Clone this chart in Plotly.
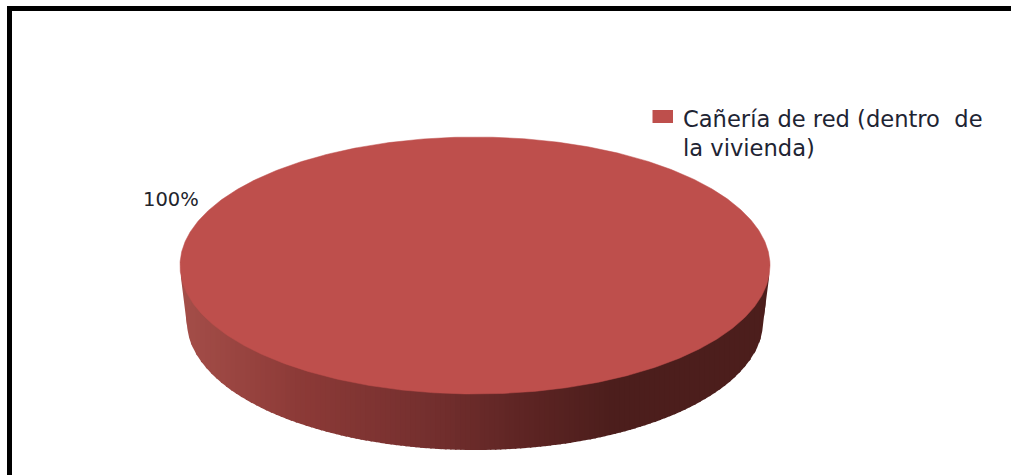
import numpy as np
import plotly.graph_objects as go

# Data
categories = ["Cañería de red (dentro  de<br>la vivienda)"]
values = [100]
value_labels = ["100%"]

# Style / geometry of the drawn pie
TOP_COLOR = "#BE4F4C"
WALL_STOPS_X = [181, 300, 430, 530, 610, 770]
WALL_STOPS_R = [165, 140, 116, 92, 76, 76]
WALL_STOPS_G = [78, 58, 47, 36, 30, 30]
WALL_STOPS_B = [73, 55, 46, 35, 28, 28]
CX, CY, RX, RY = 475, 265.5, 295, 128.5
CX2, CY2, RX2, RY2 = 475, 322, 288, 128

fig = go.Figure()

# Pie share -> sweep of the top face
shares = np.array(values, dtype=float) / sum(values)
sweep = shares[0] * 2 * np.pi
angles = np.linspace(0, sweep, 721)


def wall_bottom(x):
    inside = np.abs(x - CX2) < RX2
    ell = CY2 + RY2 * np.sqrt(np.clip(1 - ((x - CX2) / RX2) ** 2, 0, 1))
    # straight silhouette from the top rim down to the lower rim at each side
    side = CY2 + 2 - (np.abs(x - CX2) - RX2) * (46 / 6)
    return np.where(inside, ell, side)


# Side wall as narrow vertical strips, overlapping so no seams show
edges = np.linspace(CX - RX + 1, CX + RX - 1, 119)
for i, x0 in enumerate(edges[:-1]):
    x1 = min(edges[i + 1] + 1.5, edges[-1])
    xs = np.linspace(x0, x1, 5)
    upper = CY + RY * np.sqrt(np.clip(1 - ((xs - CX) / RX) ** 2, 0, 1)) - 3
    low = np.maximum(wall_bottom(xs), upper)
    xm = (x0 + edges[i + 1]) / 2
    r = np.interp(xm, WALL_STOPS_X, WALL_STOPS_R)
    g = np.interp(xm, WALL_STOPS_X, WALL_STOPS_G)
    b = np.interp(xm, WALL_STOPS_X, WALL_STOPS_B)
    col = f"rgb({r:.0f},{g:.0f},{b:.0f})"
    fig.add_trace(go.Scatter(
        x=np.r_[xs, xs[::-1]], y=np.r_[upper, low[::-1]],
        mode="lines", fill="toself", fillcolor=col,
        line=dict(color=col, width=0),
        hoverinfo="skip", showlegend=False,
    ))

# Top face
fig.add_trace(go.Scatter(
    x=CX + RX * np.cos(angles), y=CY + RY * np.sin(angles),
    mode="lines", fill="toself", fillcolor=TOP_COLOR,
    line=dict(color=TOP_COLOR, width=0.5),
    name=categories[0], showlegend=False,
))

fig.update_layout(
    width=1011, height=475, margin=dict(l=0, r=0, t=0, b=0),
    paper_bgcolor="white", plot_bgcolor="white", showlegend=False,
    xaxis=dict(range=[0, 1011], visible=False, fixedrange=True),
    yaxis=dict(range=[475, 0], visible=False, fixedrange=True),
    shapes=[
        dict(type="line", xref="x", yref="y", x0=9.5, x1=9.5, y0=6, y1=475,
             line=dict(color="black", width=5)),
        dict(type="line", xref="x", yref="y", x0=7, x1=1011, y0=8.5, y1=8.5,
             line=dict(color="black", width=5)),
        dict(type="rect", xref="x", yref="y", x0=652.5, x1=673, y0=110, y1=123,
             fillcolor=TOP_COLOR, line=dict(width=0)),
    ],
    annotations=[
        dict(x=681, y=133, xref="x", yref="y", xanchor="left", yanchor="middle",
             text=categories[0], showarrow=False, align="left",
             font=dict(family="DejaVu Sans", size=22.6, color="#1E2433")),
        dict(x=170.5, y=199, xref="x", yref="y", xanchor="center", yanchor="middle",
             text=value_labels[0], showarrow=False,
             font=dict(family="DejaVu Sans", size=19.5, color="#22242C")),
    ],
)

fig.write_html("out.html", config={"displayModeBar": False},
               post_script="document.body.style.margin='0';document.body.style.overflow='hidden';")
